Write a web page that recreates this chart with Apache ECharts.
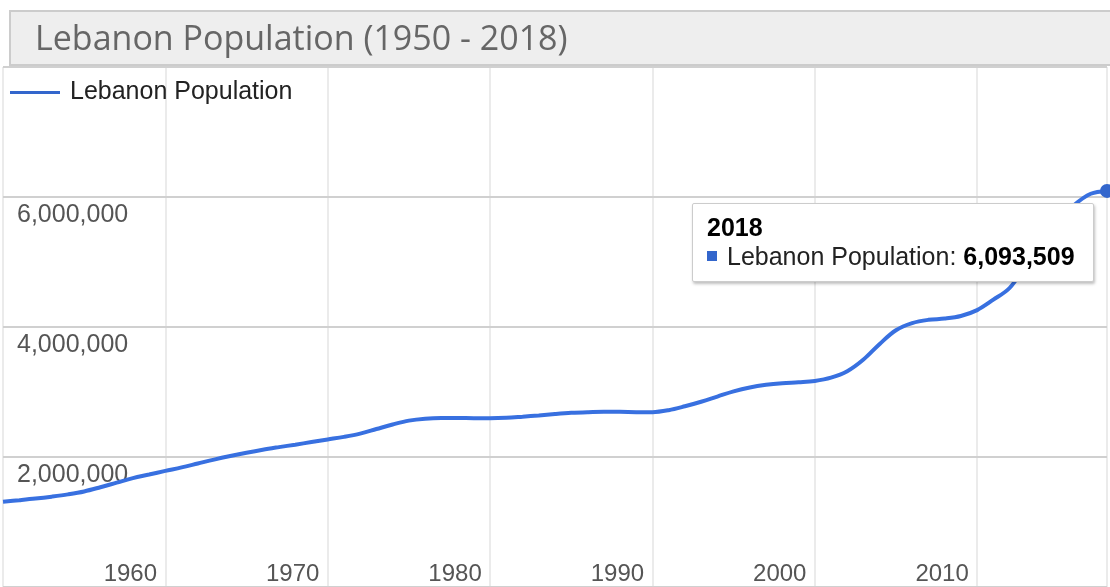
<!DOCTYPE html>
<html>
<head>
<meta charset="utf-8">
<title>Lebanon Population (1950 - 2018)</title>
<script src="https://cdn.jsdelivr.net/npm/echarts@6/dist/echarts.min.js"></script>
<style>
  html, body { margin: 0; padding: 0; background: #fff; }
  #chart { width: 1110px; height: 587px; }
</style>
</head>
<body>
<div id="chart"></div>
<script>
// values
const chartTitle = 'Lebanon Population (1950 - 2018)';
const seriesName = 'Lebanon Population';
const years = [
  1950, 1951, 1952, 1953, 1954, 1955, 1956, 1957, 1958, 1959,
  1960, 1961, 1962, 1963, 1964, 1965, 1966, 1967, 1968, 1969,
  1970, 1971, 1972, 1973, 1974, 1975, 1976, 1977, 1978, 1979,
  1980, 1981, 1982, 1983, 1984, 1985, 1986, 1987, 1988, 1989,
  1990, 1991, 1992, 1993, 1994, 1995, 1996, 1997, 1998, 1999,
  2000, 2001, 2002, 2003, 2004, 2005, 2006, 2007, 2008, 2009,
  2010, 2011, 2012, 2013, 2014, 2015, 2016, 2017, 2018
];
const population = [
  1312000, 1335000, 1360000, 1390000, 1425000, 1470000, 1535000, 1605000, 1675000, 1730000,
  1786000, 1840000, 1900000, 1960000, 2015000, 2066000, 2112000, 2152000, 2190000, 2230000,
  2270000, 2310000, 2360000, 2430000, 2500000, 2560000, 2590000, 2600000, 2600000, 2598000,
  2595000, 2602000, 2620000, 2640000, 2662000, 2680000, 2690000, 2695000, 2695000, 2690000,
  2690000, 2720000, 2780000, 2850000, 2930000, 3010000, 3070000, 3110000, 3135000, 3150000,
  3170000, 3220000, 3320000, 3500000, 3740000, 3950000, 4060000, 4110000, 4130000, 4170000,
  4260000, 4420000, 4600000, 4950000, 5300000, 5620000, 5880000, 6050000, 6093509
];
const yTicks = { min: 0, max: 8000000, step: 2000000 };
const xTicks = { min: 1950, max: 2018, step: 10 };

const lineColor = '#3366cc';
const sansFont = '"Liberation Sans", Arial, sans-serif';

const chart = echarts.init(document.getElementById('chart'));

function fmt(n) {
  return Math.round(n).toLocaleString('en-US');
}

const option = {
  animation: false,
  title: {
    text: chartTitle,
    left: 10,
    top: 11,
    padding: [11, 1200, 7, 25],
    backgroundColor: '#eeeeee',
    borderColor: '#cccccc',
    borderWidth: 2,
    textStyle: {
      fontFamily: '"Open Sans", sans-serif',
      fontSize: 34,
      fontWeight: 'normal',
      lineHeight: 36,
      color: '#666666'
    }
  },
  legend: {
    left: 5,
    top: 74,
    icon: 'rect',
    itemWidth: 50,
    itemHeight: 3,
    data: [seriesName],
    textStyle: {
      fontFamily: sansFont,
      fontSize: 25,
      lineHeight: 27,
      color: '#222222',
      padding: [0, 0, 0, 5]
    }
  },
  grid: {
    left: 3,
    right: 3,
    top: 67,
    height: 523
  },
  tooltip: {
    trigger: 'axis',
    triggerOn: 'none',
    alwaysShowContent: true,
    axisPointer: { type: 'none' },
    position: [692, 203],
    backgroundColor: '#ffffff',
    borderColor: '#cccccc',
    borderWidth: 1,
    borderRadius: 2,
    padding: [9, 18, 10, 14],
    extraCssText: 'box-shadow: 1px 2px 3px rgba(0,0,0,0.25);',
    textStyle: {
      fontFamily: sansFont,
      fontSize: 25,
      color: '#222222'
    },
    formatter: function (params) {
      const p = Array.isArray(params) ? params[0] : params;
      const year = p.value[0];
      const val = p.value[1];
      return '<div style="line-height:29px;font-weight:bold;color:#000">' + year + '</div>' +
        '<div style="line-height:29px;white-space:nowrap">' +
        '<span style="display:inline-block;width:10px;height:10px;background:' + lineColor +
        ';margin-right:10px;vertical-align:middle;position:relative;top:-2px"></span>' +
        p.seriesName + ': <b style="color:#000">' + fmt(val) + '</b></div>';
    }
  },
  xAxis: {
    type: 'value',
    min: xTicks.min,
    max: xTicks.max,
    interval: xTicks.step,
    axisLine: { show: false },
    axisTick: { show: false },
    splitLine: { show: true, lineStyle: { color: '#ebebeb', width: 2 } },
    axisLabel: {
      inside: true,
      margin: 1,
      showMinLabel: false,
      showMaxLabel: false,
      padding: [0, 70, 0, 0],
      fontFamily: sansFont,
      fontSize: 24,
      color: '#555555',
      formatter: function (v) { return String(v); }
    }
  },
  yAxis: {
    type: 'value',
    min: yTicks.min,
    max: yTicks.max,
    interval: yTicks.step,
    z: 3,
    axisLine: { show: false },
    axisTick: { show: false },
    splitLine: { show: true, lineStyle: { color: '#d0d0d0', width: 2 } },
    axisLabel: {
      inside: true,
      margin: 14,
      showMaxLabel: false,
      showMinLabel: false,
      verticalAlign: 'top',
      padding: [6, 0, 0, 0],
      fontFamily: sansFont,
      fontSize: 25,
      color: '#555555',
      textBorderColor: '#ffffff',
      textBorderWidth: 4,
      formatter: function (v) { return fmt(v); }
    }
  },
  series: [{
    name: seriesName,
    type: 'line',
    smooth: 0.35,
    showSymbol: false,
    symbol: 'circle',
    symbolSize: 14,
    color: lineColor,
    lineStyle: { color: lineColor, width: 4 },
    itemStyle: { color: lineColor },
    emphasis: { scale: false, lineStyle: { width: 4 } },
    data: years.map((y, i) => [y, population[i]])
  }]
};

chart.setOption(option);
chart.dispatchAction({ type: 'showTip', seriesIndex: 0, dataIndex: years.length - 1 });
</script>
</body>
</html>
